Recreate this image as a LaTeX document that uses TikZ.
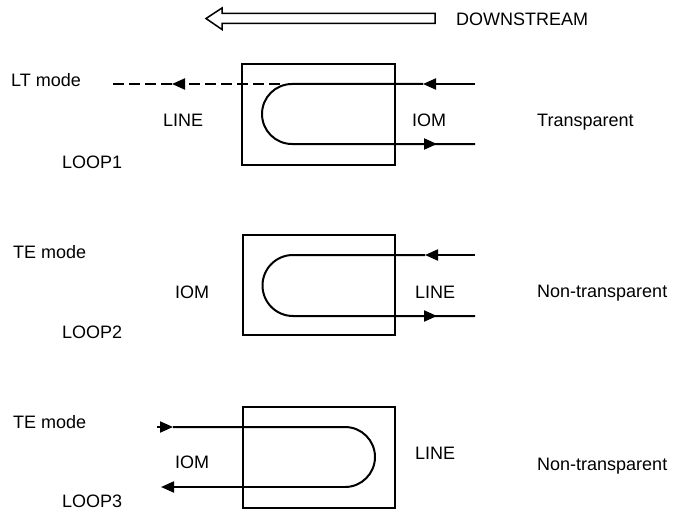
\documentclass[tikz,border=0pt]{standalone}
\usepackage{fontspec}
\setmainfont{Liberation Sans}
\usetikzlibrary{arrows.meta}
\tikzset{
  lbl/.style={anchor=base west, inner sep=0pt, font=\fontsize{18}{20}\selectfont},
  wire/.style={line width=2pt},
  tipr/.style={wire, -{Triangle[length=13pt,width=11pt]}},
  boxline/.style={line width=1.8pt},
}
\begin{document}
\begin{tikzpicture}[x=1pt,y=-1pt]
\useasboundingbox (0,0) rectangle (675,511);
% top hollow arrow
\coordinate (hT) at (206,18.5);
\draw[line width=1.5pt, line join=miter] (hT) -- (222,8) -- (222,13.5) -- (435,13.5) -- (435,23.5) -- (222,23.5) -- (222,29.5) -- cycle;
\node[lbl] (down) at (456,26) {DOWNSTREAM};

% ---------- LOOP1 ----------
\node[lbl] (lt) at (11,87) {LT mode};
\node[lbl] (line1) at (163,126) {LINE};
\node[lbl] (iom1) at (412,126) {IOM};
\node[lbl] (loop1) at (62,168) {LOOP1};
\node[lbl] (tr1) at (537,126) {Transparent};
\draw[boxline] (242,64) rectangle (395,165);
\coordinate (R1t) at (475,84);
\coordinate (A1t) at (423,84);
\coordinate (C1t) at (292,84);
\coordinate (C1b) at (292,144);
\coordinate (A1b) at (437,144);
\coordinate (R1b) at (475,144);
\coordinate (D1s) at (280,84);
\coordinate (D1a) at (172,84);
\coordinate (D1e) at (112,84);
\draw[tipr] (R1t) -- (A1t);
\draw[wire] (A1t) -- (C1t) arc[start angle=270, end angle=90, radius=30] -- (R1b);
\draw[tipr] (C1b) -- (A1b);
\draw[tipr, dash pattern=on 11pt off 5pt] (D1s) -- (D1a);
\draw[wire, dash pattern=on 11pt off 5pt] (D1a) -- (D1e);

% ---------- LOOP2 ----------
\node[lbl] (te2) at (13,258) {TE mode};
\node[lbl] (iom2) at (175,298) {IOM};
\node[lbl] (line2) at (415,298) {LINE};
\node[lbl] (loop2) at (62,338) {LOOP2};
\node[lbl] (nt2) at (537,297) {Non-transparent};
\draw[boxline] (243,235) rectangle (395,335);
\coordinate (R2t) at (475,255);
\coordinate (A2t) at (425,255);
\coordinate (C2t) at (293,255);
\coordinate (C2b) at (293,316);
\coordinate (A2b) at (437,316);
\coordinate (R2b) at (475,316);
\draw[tipr] (R2t) -- (A2t);
\draw[wire] (A2t) -- (C2t) arc[start angle=270, end angle=90, radius=30.5] -- (R2b);
\draw[tipr] (C2b) -- (A2b);

% ---------- LOOP3 ----------
\node[lbl] (te3) at (13,428) {TE mode};
\node[lbl] (iom3) at (175,468) {IOM};
\node[lbl] (line3) at (415,459) {LINE};
\node[lbl] (loop3) at (62,507) {LOOP3};
\node[lbl] (nt3) at (537,470) {Non-transparent};
\draw[boxline] (243,407) rectangle (395,508);
\coordinate (S3t) at (157,427);
\coordinate (A3t) at (173,427);
\coordinate (C3t) at (345,427);
\coordinate (C3b) at (345,487);
\coordinate (A3b) at (161,487);
\draw[tipr] (S3t) -- (A3t);
\draw[wire] (A3t) -- (C3t) arc[start angle=-90, end angle=90, radius=30];
\draw[tipr] (C3b) -- (A3b);
\end{tikzpicture}
\end{document}
